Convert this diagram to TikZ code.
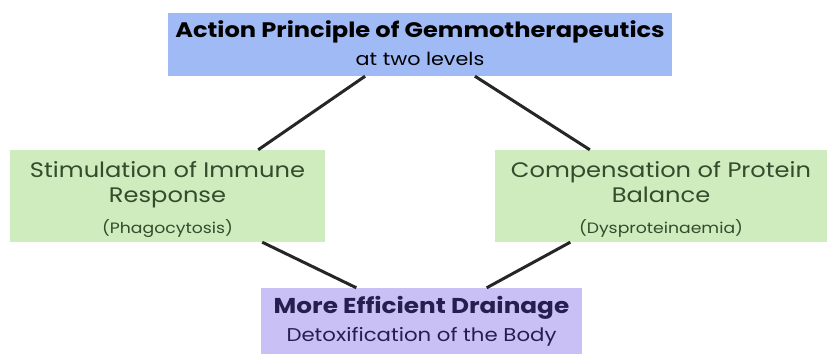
\documentclass[tikz,border=0pt]{standalone}
\usepackage{fontspec}
\setmainfont[FakeStretch=1.15]{Poppins}
\usetikzlibrary{positioning}

\definecolor{topblue}{RGB}{160,186,245}
\definecolor{leafgreen}{RGB}{206,236,190}
\definecolor{lilac}{RGB}{201,193,246}
\definecolor{greentext}{RGB}{50,76,44}
\definecolor{lilactext}{RGB}{38,30,78}

\begin{document}
\begin{tikzpicture}[x=1pt, y=1pt,
  box/.style={rectangle, inner sep=0pt},
  line/.style={anchor=base, inner sep=0pt},
  link/.style={line width=3pt, black!85}]
\useasboundingbox (0,0) rectangle (830,354);

% boxes
\node (top)[box, fill=topblue, minimum width=504pt, minimum height=63pt] at (420,309.5) {};
\node (immune)[box, fill=leafgreen, minimum width=315pt, minimum height=92pt] at (167.5,158) {};
\node (protein)[box, fill=leafgreen, minimum width=332pt, minimum height=92pt] at (661,158) {};
\node (drain)[box, fill=lilac, minimum width=321pt, minimum height=66pt] at (421.5,33) {};

% texts
\node (topA)[line, font=\fontsize{21}{25}\selectfont\bfseries] at ([yshift=-25pt]top.north)
  {Action Principle of Gemmotherapeutics};
\node (topB)[line, font=\fontsize{18}{22}\selectfont] at ([yshift=-53pt]top.north) {at two levels};

\node (immuneA)[line, text=greentext, font=\fontsize{21}{25}\selectfont] at ([yshift=-28pt]immune.north)
  {Stimulation of Immune};
\node (immuneB)[line, text=greentext, font=\fontsize{21}{25}\selectfont] at ([yshift=-53pt]immune.north)
  {Response};
\node (immuneC)[line, text=greentext, font=\fontsize{15}{18}\selectfont] at ([yshift=-84pt]immune.north)
  {(Phagocytosis)};

\node (proteinA)[line, text=greentext, font=\fontsize{21}{25}\selectfont] at ([yshift=-28pt]protein.north)
  {Compensation of Protein};
\node (proteinB)[line, text=greentext, font=\fontsize{21}{25}\selectfont] at ([yshift=-53pt]protein.north)
  {Balance};
\node (proteinC)[line, text=greentext, font=\fontsize{15}{18}\selectfont] at ([yshift=-84pt]protein.north)
  {(Dysproteinaemia)};

\node (drainA)[line, text=lilactext, font=\fontsize{21.5}{26}\selectfont\bfseries] at ([yshift=-26pt]drain.north)
  {More Efficient Drainage};
\node (drainB)[line, text=lilactext, font=\fontsize{18.5}{22}\selectfont] at ([yshift=-54pt]drain.north)
  {Detoxification of the Body};

% connectors
\draw[link] (top.210) -- (immune.27);
\draw[link] (top.330) -- (protein.147);
\draw[link] (immune.334) -- (drain.153);
\draw[link] (protein.207) -- (drain.27);
\end{tikzpicture}
\end{document}
